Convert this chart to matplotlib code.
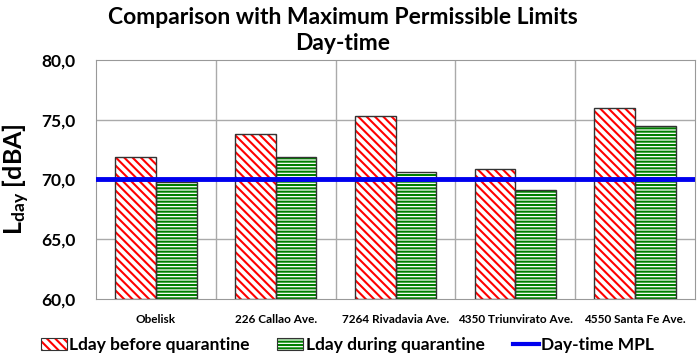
import matplotlib.pyplot as plt
import numpy as np
from matplotlib.patches import Patch
from matplotlib.lines import Line2D

plt.rcParams['font.family'] = ['Lato', 'DejaVu Sans']
plt.rcParams['mathtext.fontset'] = 'custom'
plt.rcParams['mathtext.bf'] = 'Lato:bold'
plt.rcParams['mathtext.rm'] = 'Lato'

# data
sites = ['Obelisk', '226 Callao Ave.', '7264 Rivadavia Ave.',
         '4350 Triunvirato Ave.', '4550 Santa Fe Ave.']
before = [71.9, 73.8, 75.3, 70.9, 76.0]
during = [69.8, 71.9, 70.6, 69.1, 74.5]
mpl_limit = 70.0
yticks = [60, 65, 70, 75, 80]

fig = plt.figure(figsize=(6.99, 3.57), dpi=100)
ax = fig.add_axes([96 / 699, 1 - 299 / 357, (695 - 96) / 699, (299 - 60) / 357])

x = np.arange(len(sites))
w = 0.34
plt.rcParams['hatch.linewidth'] = 1.5
red_hatch = '\\\\\\\\'
green_hatch = '-----'

# hatch colour follows edgecolor, so draw fill+hatch then outline separately
ax.bar(x - w / 2, np.array(before) - 60, w, bottom=60, color='white',
       edgecolor='red', hatch=red_hatch, linewidth=0, zorder=2)
ax.bar(x - w / 2, np.array(before) - 60, w, bottom=60, facecolor='none',
       edgecolor='#333333', linewidth=1, zorder=3)
ax.bar(x + w / 2, np.array(during) - 60, w, bottom=60, color='white',
       edgecolor='green', hatch=green_hatch, linewidth=0, zorder=2)
ax.bar(x + w / 2, np.array(during) - 60, w, bottom=60, facecolor='none',
       edgecolor='#333333', linewidth=1, zorder=3)

ax.axhline(mpl_limit, color='#0000ee', linewidth=3.5, zorder=4)

ax.set_xlim(-0.5, len(sites) - 0.5)
ax.set_ylim(60, 80)
ax.set_yticks(yticks)
ax.set_yticklabels([f'{v:.1f}'.replace('.', ',') for v in yticks],
                   fontsize=12.5, fontweight='bold')
ax.set_xticks(x)
ax.set_xticklabels(sites, fontsize=8.5, fontweight='bold')
ax.tick_params(axis='y', length=0, pad=15)
ax.tick_params(axis='x', length=0, pad=11)

for v in yticks[1:-1]:
    ax.axhline(v, color='#aaaaaa', linewidth=1, zorder=1)
for b in np.arange(0.5, len(sites) - 0.5):
    ax.axvline(b, color='#aaaaaa', linewidth=1, zorder=1)
for s in ax.spines.values():
    s.set_color('#999999')

ax.set_ylabel(r'$\mathbf{L_{day}}$ [dBA]', fontsize=18, fontweight='bold', labelpad=6)
fig.text(0.49, 1 - 18 / 357, 'Comparison with Maximum Permissible Limits',
         fontsize=16.5, fontweight='bold', ha='center', va='center')
fig.text(0.49, 1 - 44 / 357, 'Day-time',
         fontsize=16.5, fontweight='bold', ha='center', va='center')

outline = Patch(facecolor='none', edgecolor='#333333', linewidth=0.8)
handles = [
    (Patch(facecolor='white', edgecolor='red', hatch=red_hatch, linewidth=0), outline),
    (Patch(facecolor='white', edgecolor='green', hatch=green_hatch, linewidth=0), outline),
    Line2D([0], [0], color='#0000ee', linewidth=3),
]
labels = ['Lday before quarantine', 'Lday during quarantine', 'Day-time MPL']
fig.legend(handles, labels, loc='center', bbox_to_anchor=(0.497, 1 - 345 / 357),
           ncol=3, frameon=False, prop={'size': 12.5, 'weight': 'bold'},
           handlelength=1.5, handletextpad=0.15, columnspacing=1.6)

fig.savefig('out.png', dpi=100)
